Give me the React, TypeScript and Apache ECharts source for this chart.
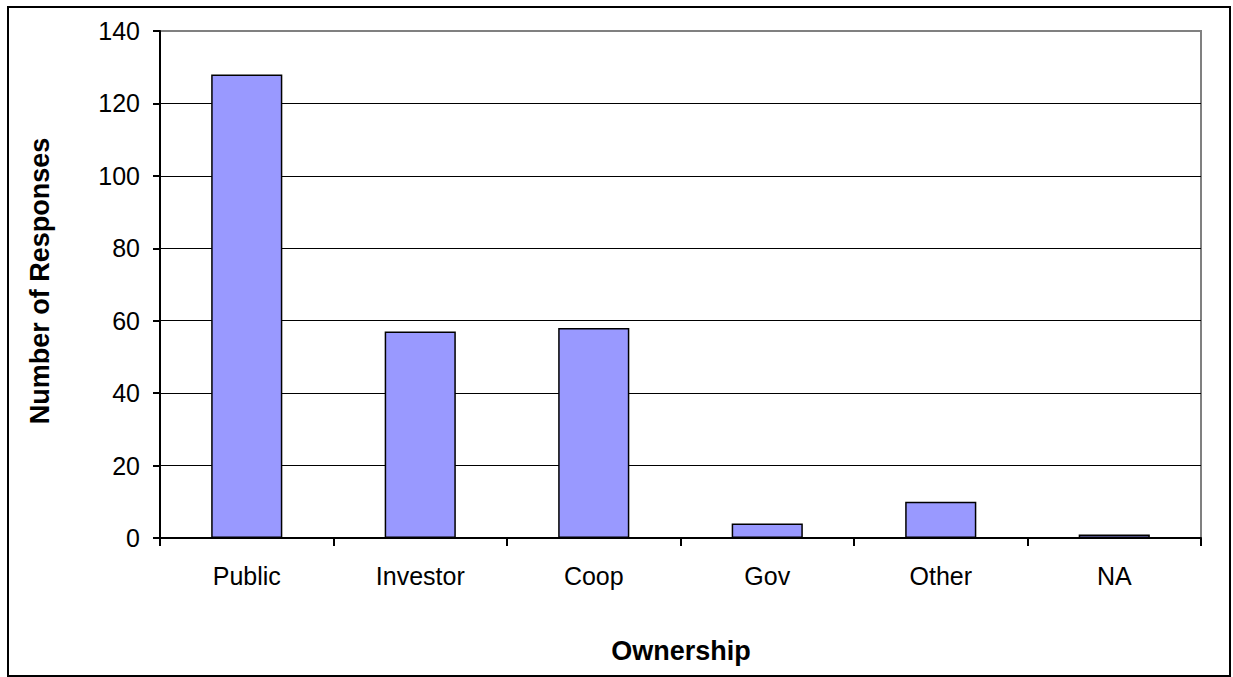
import React, { useEffect, useRef } from "react";
import * as echarts from "echarts";

const categories = ["Public", "Investor", "Coop", "Gov", "Other", "NA"];
const responses = [128, 57, 58, 4, 10, 1];
const yTicks = { min: 0, max: 140, interval: 20 };
const yTitle = "Number of Responses";
const xTitle = "Ownership";

export default function App() {
  const ref = useRef<HTMLDivElement>(null);
  useEffect(() => {
    if (!ref.current) return;
    const chart = echarts.init(ref.current, null, { renderer: "svg" });
    const font = "Arial, 'Liberation Sans', Helvetica, sans-serif";
    chart.setOption({
      animation: false,
      backgroundColor: "#ffffff",
      grid: {
        left: 160,
        right: 32,
        top: 31,
        bottom: 139,
        show: true,
        borderColor: "#808080",
        borderWidth: 2,
        backgroundColor: "transparent",
      },
      xAxis: {
        type: "category",
        data: categories,
        axisLine: { lineStyle: { color: "#000", width: 2 } },
        axisTick: { show: true, length: 8, alignWithLabel: false, lineStyle: { color: "#000", width: 2 } },
        axisLabel: { color: "#000", fontSize: 25, fontFamily: font, margin: 25 },
        splitLine: { show: false },
      },
      yAxis: {
        type: "value",
        min: yTicks.min,
        max: yTicks.max,
        interval: yTicks.interval,
        axisLine: { show: true, lineStyle: { color: "#000", width: 2 } },
        axisTick: { show: true, length: 7, lineStyle: { color: "#000", width: 2 } },
        axisLabel: { color: "#000", fontSize: 25, fontFamily: font, margin: 20 },
        splitLine: {
          show: true,
          lineStyle: {
            color: ["#000", "#000", "#000", "#000", "#000", "#000", "#000", "rgba(0,0,0,0)"],
            width: 1,
          },
        },
      },
      series: [
        {
          type: "bar",
          data: responses,
          barWidth: "41%",
          itemStyle: { color: "#9999FF", borderColor: "#000", borderWidth: 1.5 },
        },
      ],
      graphic: [
        {
          type: "rect",
          shape: { x: 8, y: 7, width: 1222, height: 669 },
          style: { fill: "none", stroke: "#000", lineWidth: 2 },
          silent: true,
        },
        {
          type: "text",
          x: 40,
          y: 281,
          rotation: Math.PI / 2,
          style: {
            text: yTitle,
            font: `bold 27px ${font}`,
            fill: "#000",
            align: "center",
            verticalAlign: "middle",
          },
        },
        {
          type: "text",
          x: 681,
          y: 651,
          style: {
            text: xTitle,
            font: `bold 27px ${font}`,
            fill: "#000",
            align: "center",
            verticalAlign: "middle",
          },
        },
      ],
    });
    return () => chart.dispose();
  }, []);
  return (
    <div
      ref={ref}
      style={{ position: "absolute", left: 0, top: 0, width: 1233, height: 677 }}
    />
  );
}
